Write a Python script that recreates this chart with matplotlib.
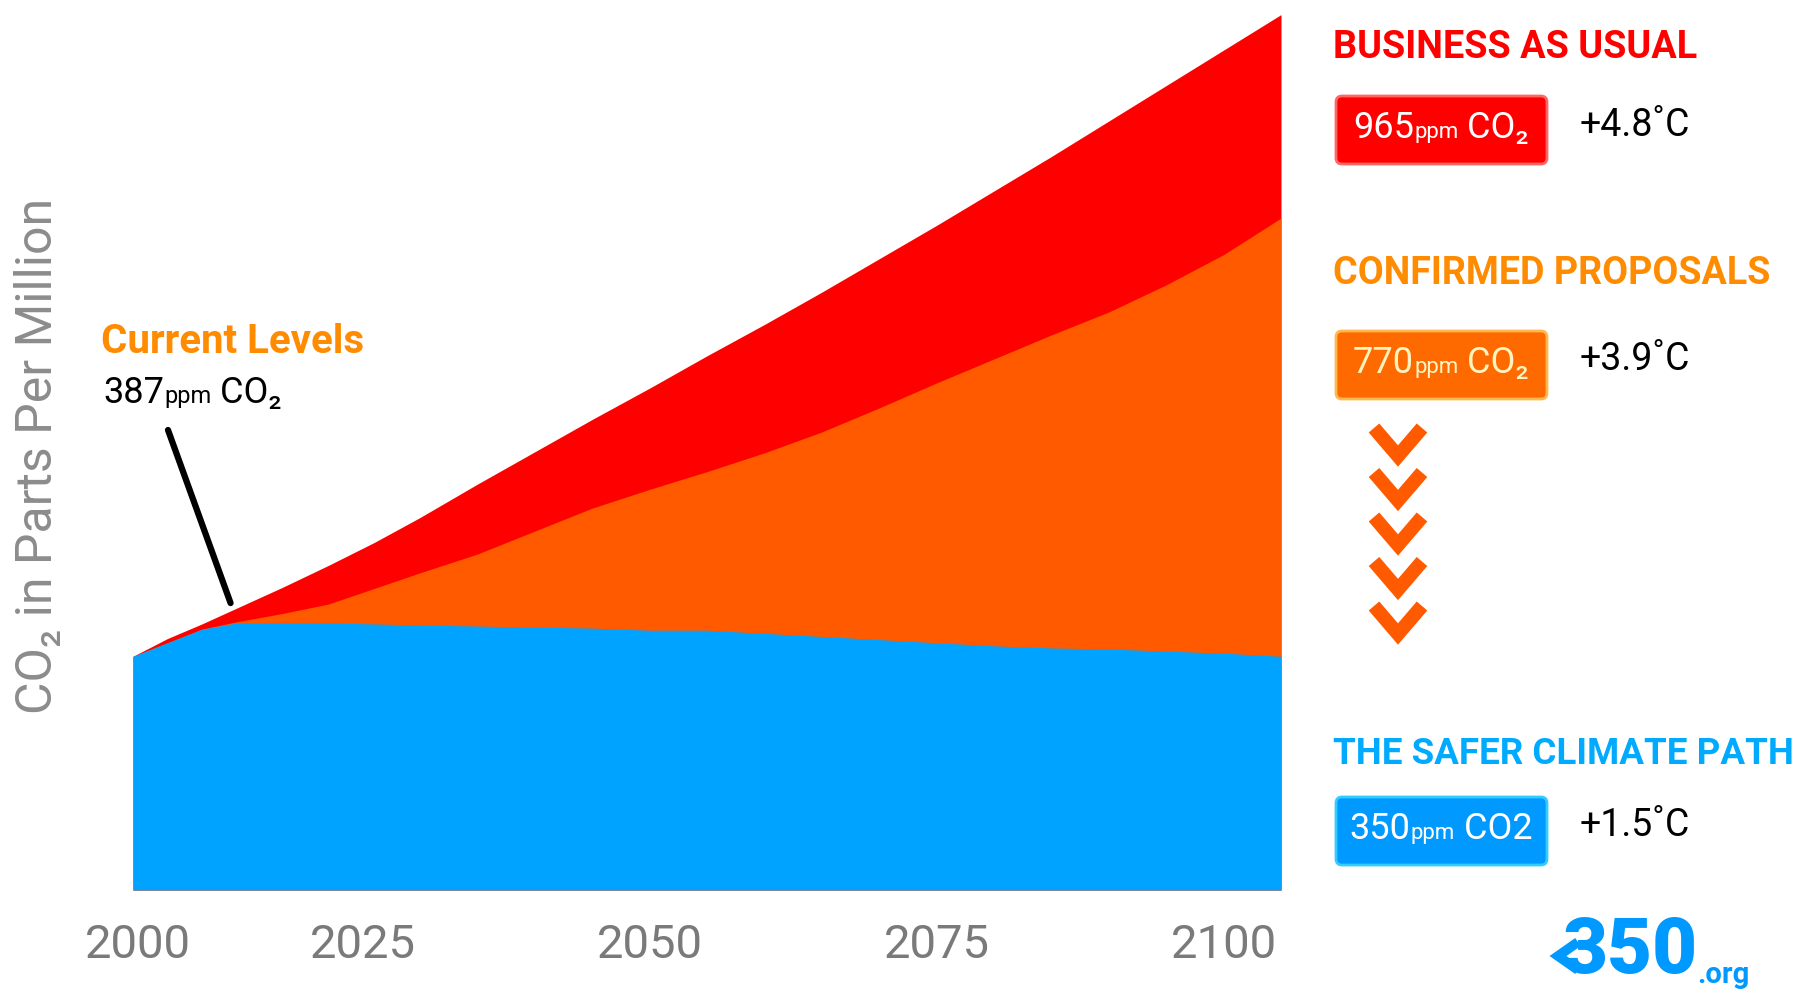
import numpy as np
import matplotlib
matplotlib.use("Agg")
import matplotlib.pyplot as plt
from matplotlib.patches import FancyBboxPatch
from matplotlib.offsetbox import TextArea, HPacker, AnnotationBbox

NARROW = ['Liberation Sans Narrow', 'Roboto', 'DejaVu Sans']
plt.rcParams['font.family'] = NARROW

# CO2 pathways (ppm) read at common years
years = [2005, 2008, 2011, 2014, 2018, 2022, 2026, 2030, 2035, 2040, 2045, 2050,
         2055, 2060, 2065, 2070, 2075, 2080, 2085, 2090, 2095, 2100, 2105]
business_as_usual = [350, 367, 381, 396, 416, 437, 459, 483, 515, 546, 577, 607,
                     638, 668, 699, 731, 763, 796, 829, 863, 897, 931, 965]
confirmed_proposals = [350, 363, 376, 383, 391, 400, 415, 430, 448, 470, 492, 510,
                       527, 545, 565, 588, 612, 635, 658, 680, 706, 735, 770]
safer_path = [350, 363, 376, 382, 382, 382, 381, 380, 379, 378, 377, 375,
              375, 372, 369, 366, 363, 360, 358, 357, 355, 353, 350]

tick_years = [2005.4, 2025, 2050, 2075, 2100]
tick_labels = ['2000', '2025', '2050', '2075', '2100']

current_year, current_ppm = 2013.5, 387

RED = '#FF0000'
ORANGE = '#FF5A00'
BLUE = '#00A3FF'

W, H = 1797, 991
fig = plt.figure(figsize=(W / 100, H / 100), dpi=100)
ax = fig.add_axes([133 / W, 101 / H, 1148 / W, 890 / H])

ymin = 126
ax.fill_between(years, ymin, business_as_usual, color=RED, lw=0)
ax.fill_between(years, ymin, confirmed_proposals, color=ORANGE, lw=0)
ax.fill_between(years, ymin, safer_path, color=BLUE, lw=0)

ax.set_xlim(2005, 2105)
ax.set_ylim(ymin, 979)
ax.set_xticks(tick_years, tick_labels)
ax.set_yticks([])
ax.tick_params(axis='x', length=0, pad=24, labelsize=34, labelcolor='#7a7a7a')
for s in ax.spines.values():
    s.set_visible(False)

fig.text(38 / W, 1 - 456 / H, 'CO\u2082 in Parts Per Million', rotation=90,
         ha='center', va='center', fontsize=36, color='#8c8c8c')

# pointer to today's level
ax.annotate('', xy=(current_year, 401), xytext=(168, H - 430),
            textcoords='figure pixels',
            arrowprops=dict(arrowstyle='-', lw=4.5, color='black',
                            shrinkA=0, shrinkB=0))

# overlay in pixel coordinates for the side panel
ov = fig.add_axes([0, 0, 1, 1])
ov.set_xlim(0, W)
ov.set_ylim(H, 0)
ov.axis('off')
ov.patch.set_alpha(0)
renderer = fig.canvas.get_renderer()


def fit_width(t, width):
    # shrink a heading until it spans the given pixel width
    w = t.get_window_extent(renderer).width
    t.set_fontsize(t.get_fontsize() * width / w)


def mixed(x, y, parts, ha='left'):
    kids = [TextArea(t, textprops=dict(fontsize=fs, color=c, fontweight=fw,
                                       family=NARROW))
            for t, fs, c, fw in parts]
    pack = HPacker(children=kids, align='baseline', pad=0, sep=0)
    bx = {'left': 0.0, 'center': 0.5}[ha]
    ab = AnnotationBbox(pack, (x, y), xycoords='data', frameon=False,
                        box_alignment=(bx, 0.5), pad=0)
    ov.add_artist(ab)


ov.text(101, 342, 'Current Levels', fontsize=29, fontweight='bold',
        color='#FF8C00', va='center', ha='left')
mixed(103, 393, [(f'{current_ppm}', 26, 'black', 'normal'),
                 ('ppm', 17, 'black', 'normal'),
                 (' CO\u2082', 26, 'black', 'normal')])

panels = [
    ('BUSINESS AS USUAL', 365, RED, 47, 93, RED, '#FF6666', '965', '\u2082', '+4.8\u02daC'),
    ('CONFIRMED PROPOSALS', 437, '#FF8C00', 273, 328, '#FF6A00', '#FFB84D', '770', '\u2082', '+3.9\u02daC'),
    ('THE SAFER CLIMATE PATH', 460, '#00AAFF', 754, 794, '#0099FF', '#33CCFF', '350', '2', '+1.5\u02daC'),
]
for title, tw, tcol, ty, by, fill, edge, ppm, sub, temp in panels:
    t = ov.text(1333, ty, title, fontsize=30, fontweight='bold', color=tcol,
                va='center', ha='left')
    fit_width(t, tw)
    box = FancyBboxPatch((1336, by + 3), 211, 68,
                         boxstyle='round,pad=0,rounding_size=6',
                         facecolor=fill, edgecolor=edge, lw=2)
    ov.add_patch(box)
    txt_col = 'white' if fill != '#FF6A00' else '#FFF4C0'
    mixed(1441, by + 35, [(ppm, 26, txt_col, 'normal'),
                          ('ppm', 16, txt_col, 'normal'),
                          (' CO' + sub, 26, txt_col, 'normal')], ha='center')
    ov.text(1580, by + 32, temp, fontsize=27, color='black', va='center',
            ha='left')

# downward chevrons
for i in range(5):
    top = 428 + i * 44.5
    ov.plot([1374, 1398, 1422], [top, top + 28, top], color=ORANGE, lw=10,
            solid_joinstyle='miter', solid_capstyle='butt')

# 350.org mark
ov.plot([1578, 1558, 1578], [942, 956, 970], color='#0099FF', lw=7,
        solid_joinstyle='miter', solid_capstyle='butt')
ov.text(1562, 989, '350', fontsize=56, fontweight='heavy', color='#0099FF',
        va='bottom', ha='left')
ov.text(1697, 989, '.org', fontsize=21, fontweight='bold', color='#0099FF',
        va='bottom', ha='left')

fig.savefig('out.png', dpi=100)
